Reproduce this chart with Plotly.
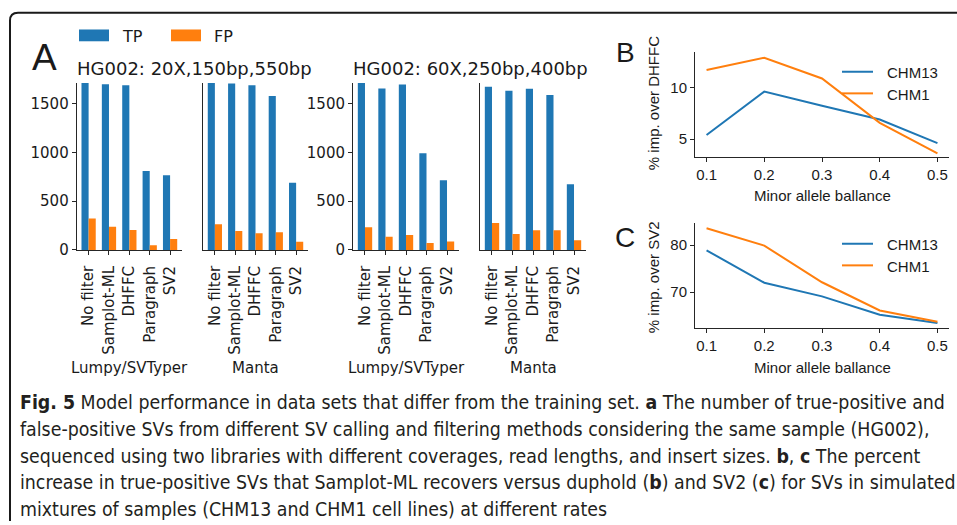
import plotly.graph_objects as go

W, H = 957, 525

def X(px):
    return px / W

def Y(py):
    return 1 - py / H

# ---------------- data ----------------
methods = ["No filter", "Samplot-ML", "DHFFC", "Paragraph", "SV2"]

tp_lumpy_20x = [1711, 1698, 1688, 809, 765]
fp_lumpy_20x = [322, 238, 205, 47, 111]
tp_manta_20x = [1711, 1705, 1688, 1577, 688]
fp_manta_20x = [262, 195, 171, 181, 84]
tp_lumpy_60x = [1711, 1654, 1695, 990, 715]
fp_lumpy_60x = [232, 134, 154, 70, 87]
tp_manta_60x = [1671, 1631, 1651, 1587, 674]
fp_manta_60x = [275, 164, 201, 201, 100]

bar_yticks = [0, 500, 1000, 1500]

allele_balance = [0.1, 0.2, 0.3, 0.4, 0.5]
dhffc_chm13 = [5.41, 9.62, 8.25, 6.91, 4.62]
dhffc_chm1 = [11.72, 12.9, 10.89, 6.59, 3.63]
sv2_chm13 = [78.9, 72.0, 69.1, 65.2, 63.4]
sv2_chm1 = [83.6, 79.9, 72.1, 66.1, 63.7]

BLUE = "#1f77b4"
ORANGE = "#ff7f0e"
AX = "#262626"
DJ = "DejaVu Sans"
AR = "Liberation Sans, Arial, sans-serif"

fig = go.Figure()

bar_sets = [
    (tp_lumpy_20x, fp_lumpy_20x),
    (tp_manta_20x, fp_manta_20x),
    (tp_lumpy_60x, fp_lumpy_60x),
    (tp_manta_60x, fp_manta_60x),
]
for i, (tp, fp) in enumerate(bar_sets, start=1):
    xa = "x" if i == 1 else f"x{i}"
    ya = "y" if i == 1 else f"y{i}"
    fig.add_trace(go.Bar(x=methods, y=tp, name="TP", marker_color=BLUE,
                         marker_line_width=0, xaxis=xa, yaxis=ya,
                         offsetgroup="tp", showlegend=False))
    fig.add_trace(go.Bar(x=methods, y=fp, name="FP", marker_color=ORANGE,
                         marker_line_width=0, xaxis=xa, yaxis=ya,
                         offsetgroup="fp", showlegend=False))

for series, color, ax in [(dhffc_chm13, BLUE, 5), (dhffc_chm1, ORANGE, 5),
                          (sv2_chm13, BLUE, 6), (sv2_chm1, ORANGE, 6)]:
    fig.add_trace(go.Scatter(x=allele_balance, y=series, mode="lines",
                             line=dict(color=color, width=2),
                             xaxis=f"x{ax}", yaxis=f"y{ax}", showlegend=False))

bar_x_domains = [(76.7, 182), (203, 308), (353, 459), (480, 586)]
bar_y_dom = [Y(254.3), Y(84)]

layout = dict(
    width=W, height=H, autosize=False,
    margin=dict(l=0, r=0, t=0, b=0),
    paper_bgcolor="white", plot_bgcolor="white",
    barmode="group", bargap=0.3, bargroupgap=0,
    showlegend=False,
)

for i, (a, b) in enumerate(bar_x_domains, start=1):
    xk = "xaxis" if i == 1 else f"xaxis{i}"
    yk = "yaxis" if i == 1 else f"yaxis{i}"
    ya = "y" if i == 1 else f"y{i}"
    xa = "x" if i == 1 else f"x{i}"
    layout[xk] = dict(domain=[X(a), X(b)], anchor=ya, type="category",
                      categoryorder="array", categoryarray=methods,
                      range=[-0.585, 4.585], showline=True, linecolor=AX,
                      linewidth=1, ticks="outside", ticklen=4, tickcolor=AX,
                      ticklabelstandoff=5,
                      tickangle=-90, tickfont=dict(family=DJ, size=15, color="#1a1a1a"),
                      showgrid=False, zeroline=False, fixedrange=True)
    show_lab = i in (1, 3)
    layout[yk] = dict(domain=bar_y_dom, anchor=xa, range=[0, 1715],
                      tickvals=bar_yticks, showticklabels=show_lab,
                      showline=True, linecolor=AX, linewidth=1,
                      ticks="outside" if show_lab else "", ticklen=4, tickcolor=AX,
                      tickfont=dict(family=DJ, size=15, color="#1a1a1a"),
                      showgrid=False, zeroline=False, fixedrange=True)

for k, (top, bot, rng, tv) in {5: (53, 160, [3.25, 13.45], [5, 10]),
                               6: (227, 334, [62.3, 84.7], [70, 80])}.items():
    layout[f"xaxis{k}"] = dict(domain=[X(695), X(949)], anchor=f"y{k}", range=[0.08, 0.52],
                               tickvals=allele_balance,
                               ticktext=[str(v) for v in allele_balance],
                               showline=True, linecolor=AX, linewidth=1, ticks="outside",
                               ticklen=4, tickcolor=AX,
                               tickfont=dict(family=AR, size=15, color="#1a1a1a"),
                               showgrid=False, zeroline=False)
    layout[f"yaxis{k}"] = dict(domain=[Y(bot), Y(top)], anchor=f"x{k}", range=rng,
                               tickvals=tv, showline=True, linecolor=AX, linewidth=1,
                               ticks="outside", ticklen=4, tickcolor=AX,
                               tickfont=dict(family=AR, size=15, color="#1a1a1a"),
                               showgrid=False, zeroline=False)

fig.update_layout(**layout)

ann = []
shapes = []

def text(px, py, s, size, family=DJ, xanchor="center", yanchor="middle",
         angle=0, color="#1a1a1a"):
    ann.append(dict(x=X(px), y=Y(py), xref="paper", yref="paper", text=s,
                    showarrow=False, xanchor=xanchor, yanchor=yanchor,
                    textangle=angle, font=dict(family=family, size=size, color=color)))

# panel letters
text(44, 58, "A", 37, AR)
text(625, 53, "B", 28, AR)
text(625, 242, "C", 28, AR)

# panel A titles
text(194, 70, "HG002: 20X,150bp,550bp", 18)
text(470, 70, "HG002: 60X,250bp,400bp", 18)

# caller labels
for (a, b), name in zip(bar_x_domains, ["Lumpy/SVTyper", "Manta", "Lumpy/SVTyper", "Manta"]):
    text((a + b) / 2, 374, name, 15)

# bar legend
for x0, col, lab in [(79, BLUE, "TP"), (171, ORANGE, "FP")]:
    shapes.append(dict(type="rect", xref="paper", yref="paper",
                       x0=X(x0), x1=X(x0 + 30), y0=Y(42), y1=Y(30),
                       fillcolor=col, line=dict(width=0)))
    text(x0 + 41, 37, lab, 16, xanchor="left")

# line legends
for yy, col, lab in [(73, BLUE, "CHM13"), (95, ORANGE, "CHM1"),
                     (248, BLUE, "CHM13"), (270, ORANGE, "CHM1")]:
    shapes.append(dict(type="line", xref="paper", yref="paper",
                       x0=X(842), x1=X(873), y0=Y(yy), y1=Y(yy),
                       line=dict(color=col, width=2)))
    text(885, yy + 1, lab, 15, AR, xanchor="left")

# axis titles for B / C
text(822, 199, "Minor allele ballance", 15, AR)
text(822, 374, "Minor allele ballance", 15, AR)
text(653, 105, "% imp. over DHFFC", 15, AR, angle=-90)
text(653, 282, "% imp. over SV2", 15, AR, angle=-90)

# caption
CAP = "Liberation Sans Narrow, DejaVu Sans Condensed, Roboto Condensed, Arial Narrow, sans-serif"
cap_lines = [
    "<b>Fig. 5</b> Model performance in data sets that differ from the training set. <b>a</b> The number of true-positive and",
    "false-positive SVs from different SV calling and filtering methods considering the same sample (HG002),",
    "sequenced using two libraries with different coverages, read lengths, and insert sizes. <b>b</b>, <b>c</b> The percent",
    "increase in true-positive SVs that Samplot-ML recovers versus duphold (<b>b</b>) and SV2 (<b>c</b>) for SVs in simulated",
    "mixtures of samples (CHM13 and CHM1 cell lines) at different rates",
]
for k, line in enumerate(cap_lines):
    text(18, 410 + 27 * k, line, 19.35, CAP, xanchor="left", color="#231f20")

# figure frame (rounded top-left corner)
r = 8
path = (f"M {X(10)},{Y(530)} L {X(10)},{Y(13 + r)} "
        f"Q {X(10)},{Y(13)} {X(10 + r)},{Y(13)} L {X(965)},{Y(13)}")
shapes.append(dict(type="path", xref="paper", yref="paper", path=path,
                   line=dict(color="#1a1a1a", width=2)))

fig.update_layout(annotations=ann, shapes=shapes)
fig.write_html("out.html",
               config={"displayModeBar": False},
               post_script="document.body.style.margin='0px';"
                           "document.body.style.overflow='hidden';")
